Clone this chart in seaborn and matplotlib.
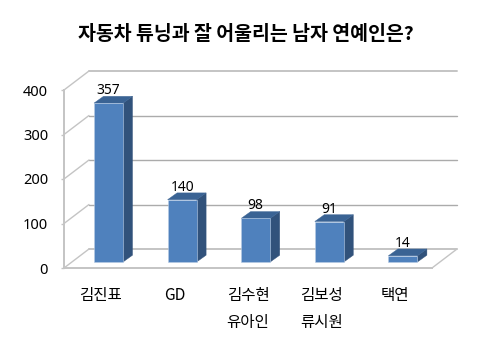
import numpy as np
import matplotlib
matplotlib.use("Agg")
import matplotlib.pyplot as plt
from matplotlib.patches import Polygon
from matplotlib.transforms import ScaledTranslation
import seaborn as sns

# values
names = ["김진표", "GD", "김수현\n유아인", "김보성\n류시원", "택연"]
votes = [357, 140, 98, 91, 14]
y_ticks = [0, 100, 200, 300, 400]
title_text = "자동차 튜닝과 잘 어울리는 남자 연예인은?"

sns.set_style("white")
plt.rcParams['font.family'] = ['Noto Sans CJK KR', 'DejaVu Sans']

W, H = 500, 359
DPI = 100

FRONT = "#4F81BD"
SIDE = "#31527B"
TOP = "#3A6394"
EDGE = "#B9CDE5"
GRID = "#ABABAB"
AXIS = "#C4C4C4"
TEXT = "#000000"

fig = plt.figure(figsize=(W / DPI, H / DPI), dpi=DPI)
# axes box is the front plane of the fake 3d chart
ax = fig.add_axes([64 / W, (H - 268) / H, (432 - 64) / W, (268 - 90) / H])

# pixels per data unit, to turn the depth offsets into data units
px_x = (432 - 64) / 5
px_y = (268 - 90) / 400


def shift(dx, dy):
    """Pixel offset on top of data coordinates, for the depth effect."""
    return ax.transData + ScaledTranslation(dx / DPI, dy / DPI, fig.dpi_scale_trans)


sns.barplot(x=names, y=votes, color=FRONT, saturation=1, width=0.394,
            edgecolor=EDGE, linewidth=0.4, ax=ax, zorder=5)
ax.set_xlim(-0.5, 4.5)
ax.set_ylim(0, 400)

# --- back wall and floor ---
wall_dx, wall_dy = 25 / px_x, 19 / px_y
x0, x1 = -0.5, 4.5
for t in y_ticks:
    outer = t in (0, 400)
    lc = AXIS if outer else GRID
    ax.plot([x0 + wall_dx, x1 + wall_dx], [t + wall_dy, t + wall_dy], color=lc,
            lw=1.4 if outer else 1.0, clip_on=False, zorder=1)
    # oblique line from the axis up to the wall
    ax.plot([x0, x0 + wall_dx], [t, t + wall_dy], color=AXIS, lw=1.0, clip_on=False, zorder=1)
# right floor edge
ax.plot([x1, x1 + wall_dx], [0, wall_dy], color=AXIS, lw=1.0, clip_on=False, zorder=1)

# --- depth faces of the bars ---
bar_dx, bar_dy = 7.7, 6
depth_dx, depth_dy = 9.5 / px_x, 6.8 / px_y
front = shift(bar_dx, bar_dy)
for bar, v in zip(ax.patches, votes):
    bar.set_transform(front)
    bar.set_clip_on(False)
    l, r = bar.get_x(), bar.get_x() + bar.get_width()
    side = Polygon([(r, 0), (r + depth_dx, depth_dy), (r + depth_dx, v + depth_dy), (r, v)], closed=True,
                   facecolor=SIDE, edgecolor=SIDE, lw=0.3, transform=front, clip_on=False, zorder=4)
    top = Polygon([(l, v), (l + depth_dx, v + depth_dy), (r + depth_dx, v + depth_dy), (r, v)], closed=True,
                  facecolor=TOP, edgecolor=TOP, lw=0.3, transform=front, clip_on=False, zorder=4)
    ax.add_patch(side)
    ax.add_patch(top)
    ax.text((l + r) / 2, v, str(v), transform=shift(bar_dx, bar_dy + 9), ha="center", va="baseline",
            fontsize=10, family="Noto Sans", color=TEXT, zorder=6)

# --- axes ---
sns.despine(ax=ax, top=True, right=True)
for s in ("left", "bottom"):
    ax.spines[s].set_color(AXIS)
    ax.spines[s].set_linewidth(1.4)
ax.set_yticks(y_ticks)
ax.set_yticklabels([str(t) for t in y_ticks], fontsize=10.5, family="Noto Sans", color=TEXT)
ax.set_xticks(range(len(names)))
ax.set_xticklabels(names, fontsize=11.2, color=TEXT, linespacing=1.7)
ax.set_xticks(np.arange(-0.5, 5), minor=True)
ax.tick_params(axis="x", which="major", length=0, pad=14)
ax.tick_params(axis="x", which="minor", length=3, width=1, color=AXIS)
ax.tick_params(axis="y", which="major", length=2, width=1, color=AXIS, pad=9.5, left=True)
ax.set_xlabel("")
ax.set_ylabel("")
ax.patch.set_alpha(0)

fig.text(246 / W, (H - 35) / H, title_text, ha="center", va="center", fontsize=14, fontweight="bold", color=TEXT)

fig.savefig("out.png", dpi=DPI, facecolor="white")
